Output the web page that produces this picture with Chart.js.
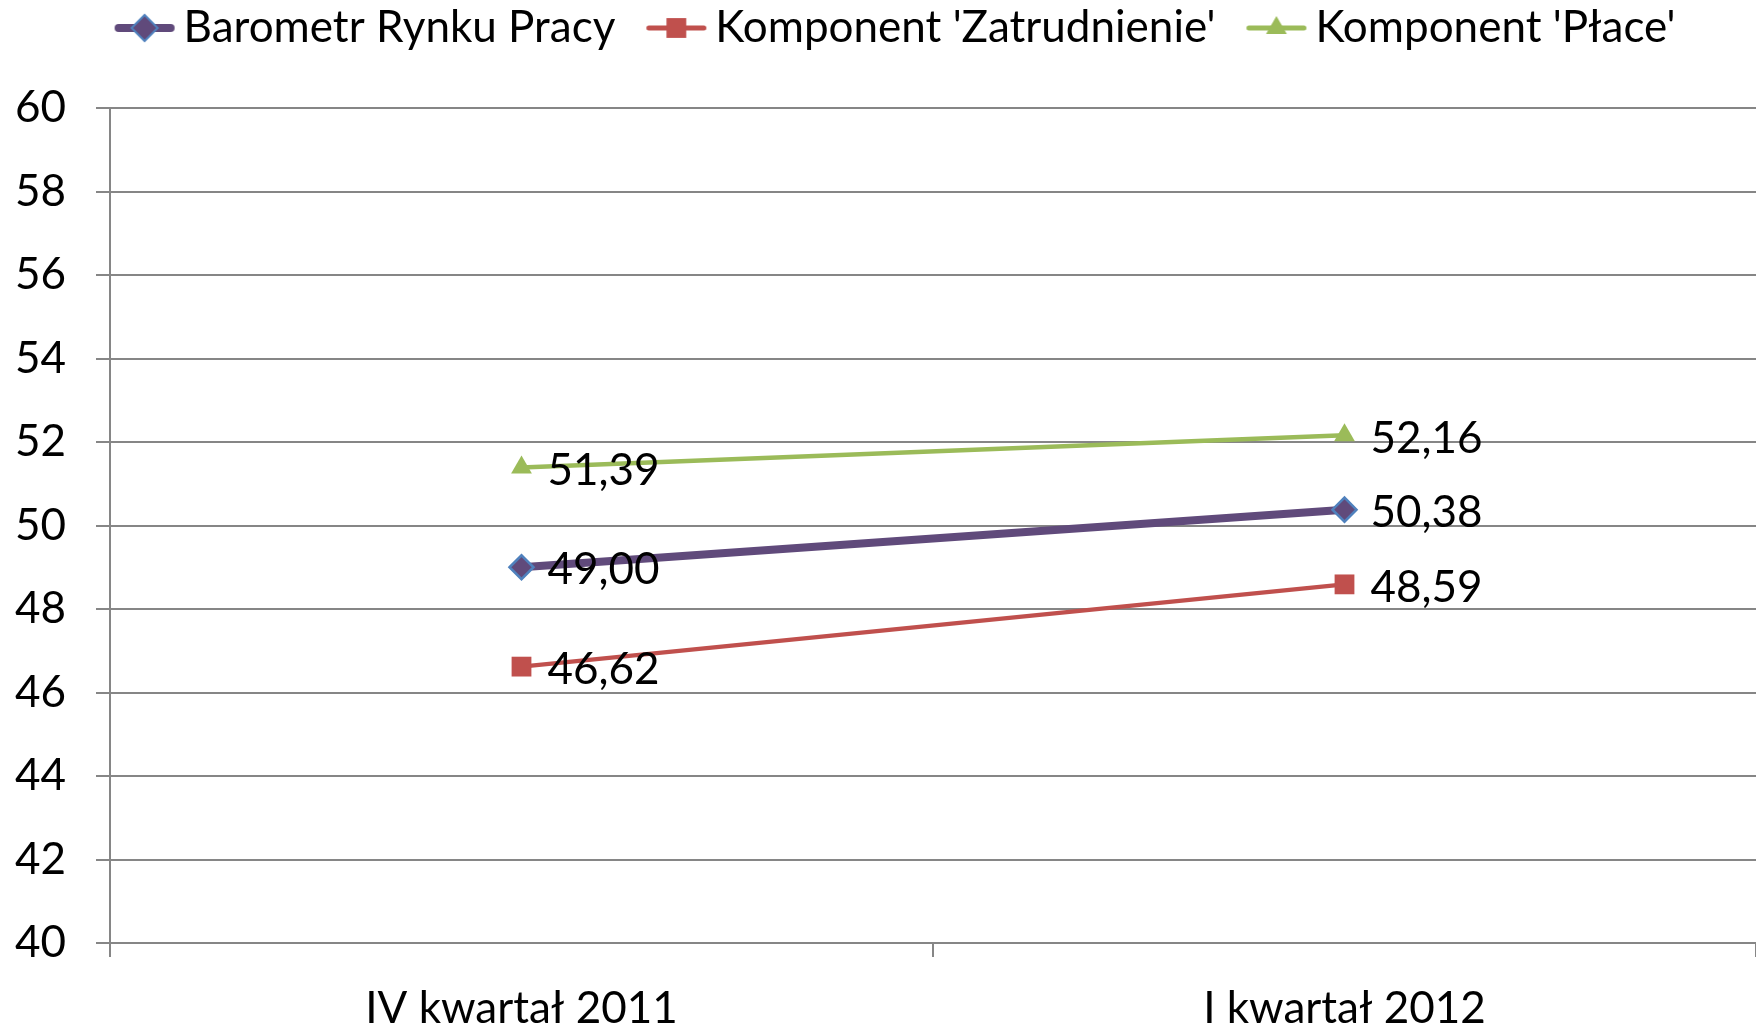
<!DOCTYPE html>
<html><head><meta charset="utf-8">
<script src="https://cdn.jsdelivr.net/npm/chart.js@4"></script>
<style>html,body{margin:0;padding:0;background:#fff;}canvas{display:block;}</style>
</head><body>
<canvas id="c" width="1756" height="1025"></canvas>
<script>
const categories = ['IV kwartał 2011', 'I kwartał 2012'];
const seriesNames = ['Barometr Rynku Pracy', "Komponent 'Zatrudnienie'", "Komponent 'Płace'"];
const barometr = [49.00, 50.38];
const zatrudnienie = [46.62, 48.59];
const place = [51.39, 52.16];
const yMin = 40, yMax = 60, yStep = 2;

const FONT = 'Lato, "Open Sans", sans-serif';
const FS = 44;

function makeIcon(lineColor, lineW, style, radius, fill, stroke, bw) {
  const c = document.createElement('canvas');
  c.width = 62; c.height = 32;
  const ctx = c.getContext('2d');
  ctx.strokeStyle = lineColor; ctx.lineWidth = lineW; ctx.lineCap = 'round';
  ctx.beginPath(); ctx.moveTo(lineW/2 + 1, 16); ctx.lineTo(61 - lineW/2, 16); ctx.stroke();
  ctx.fillStyle = fill; ctx.strokeStyle = stroke; ctx.lineWidth = bw;
  Chart.helpers.drawPoint(ctx, {pointStyle: style, radius: radius, rotation: 0, borderWidth: bw}, 31, 16);
  return c;
}

const dataLabels = {
  id: 'dataLabels',
  afterDatasetsDraw(chart) {
    const ctx = chart.ctx;
    ctx.save();
    ctx.font = FS + 'px ' + FONT;
    ctx.fillStyle = '#000';
    ctx.textAlign = 'left';
    ctx.textBaseline = 'middle';
    chart.data.datasets.forEach((ds, i) => {
      const meta = chart.getDatasetMeta(i);
      meta.data.forEach((el, j) => {
        ctx.fillText(ds.data[j].toFixed(2).replace('.', ','), el.x + 26, el.y + 3);
      });
    });
    ctx.restore();
  }
};

const legendShift = {
  id: 'legendShift',
  beforeInit(chart) {
    const lg = chart.legend;
    if (lg) {
      const orig = lg.fit;
      lg.fit = function() { orig.call(this); this.height = 108; };
    }
  },
  afterLayout(chart) {
    const lg = chart.legend;
    if (lg) { lg.top -= 38; lg.bottom -= 38; lg.left += 23; lg.right += 23; }
  }
};

function build() {
  const icons = [
    makeIcon('#604A7B', 8, 'rectRot', 13, '#604A7B', '#4F81BD', 2),
    makeIcon('#C0504D', 5, 'rect', 14, '#C0504D', '#C0504D', 0),
    makeIcon('#9BBB59', 5, 'triangle', 12, '#9BBB59', '#9BBB59', 0)
  ];
  new Chart(document.getElementById('c'), {
    type: 'line',
    data: {
      labels: categories,
      datasets: [
        {label: seriesNames[0], data: barometr, borderColor: '#604A7B', borderWidth: 8,
         pointStyle: 'rectRot', pointRadius: 12, pointBackgroundColor: '#604A7B', pointBorderColor: '#4F81BD', pointBorderWidth: 2.5},
        {label: seriesNames[1], data: zatrudnienie, borderColor: '#C0504D', borderWidth: 4.5,
         pointStyle: 'rect', pointRadius: 14, pointBackgroundColor: '#C0504D', pointBorderColor: '#C0504D', pointBorderWidth: 0},
        {label: seriesNames[2], data: place, borderColor: '#9BBB59', borderWidth: 4.5,
         pointStyle: 'triangle', pointRadius: 12, pointBackgroundColor: '#9BBB59', pointBorderColor: '#9BBB59', pointBorderWidth: 0}
      ]
    },
    options: {
      responsive: false,
      animation: false,
      layout: {autoPadding: false, padding: {left: 0, right: -1, top: 0, bottom: 0}},
      plugins: {
        tooltip: {enabled: false},
        legend: {
          position: 'top',
          labels: {
            usePointStyle: true,
            pointStyleWidth: 34,
            padding: 44,
            color: '#000',
            font: {family: FONT, size: FS},
            generateLabels(chart) {
              return chart.data.datasets.map((ds, i) => ({
                text: ds.label, pointStyle: icons[i], fillStyle: ds.borderColor,
                strokeStyle: ds.borderColor, lineWidth: 0, hidden: false, datasetIndex: i, fontColor: '#000'
              }));
            }
          }
        }
      },
      scales: {
        x: {
          type: 'category',
          offset: true,
          grid: {display: true, drawOnChartArea: false, drawTicks: true, tickLength: 14, offset: true, color: '#868686', lineWidth: 2},
          border: {display: true, color: '#868686', width: 2},
          ticks: {color: '#000', font: {family: FONT, size: FS}, padding: 25, maxRotation: 0},
          afterFit(s) { s.height = 82; s.paddingLeft = 0; s.paddingRight = 0; }
        },
        y: {
          min: yMin, max: yMax,
          grid: {color: '#868686', lineWidth: 2, tickLength: 14, drawTicks: true},
          border: {display: true, color: '#868686', width: 2},
          ticks: {stepSize: yStep, color: '#000', font: {family: FONT, size: FS}, padding: 30},
          afterFit(s) { s.width = 110; s.paddingTop = 0; s.paddingBottom = 0; }
        }
      }
    },
    plugins: [dataLabels, legendShift]
  });
}
(document.fonts && document.fonts.load ? document.fonts.load(FS + 'px Lato') : Promise.resolve()).then(build, build);
</script>
</body></html>
